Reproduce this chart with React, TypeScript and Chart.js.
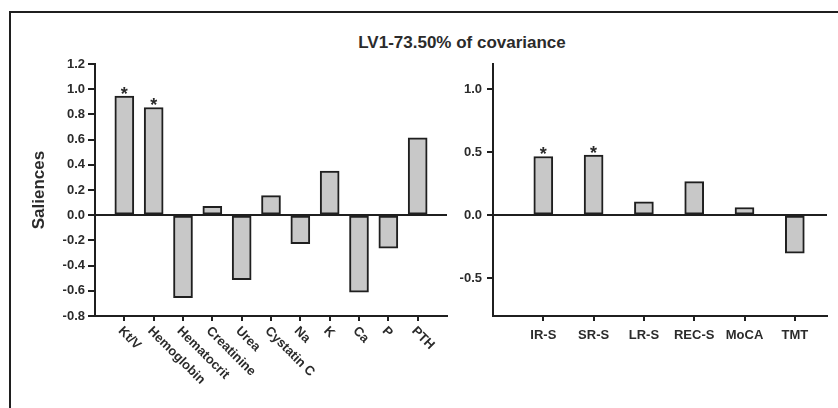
import React, { useEffect, useRef } from "react";
import { Chart, registerables } from "chart.js";

Chart.register(...registerables);

// ---------- data ----------
const titleText = "LV1-73.50% of covariance";
const yAxisTitle = "Saliences";

const leftCategories = ["Kt/V", "Hemoglobin", "Hematocrit", "Creatinine", "Urea", "Cystatin C", "Na", "K", "Ca", "P", "PTH"];
const leftValues = [0.945, 0.855, -0.655, 0.07, -0.512, 0.155, -0.225, 0.35, -0.61, -0.262, 0.615];
const leftStars = [true, true, false, false, false, false, false, false, false, false, false];
const leftYTicks = [-0.8, -0.6, -0.4, -0.2, 0.0, 0.2, 0.4, 0.6, 0.8, 1.0, 1.2];

const rightCategories = ["IR-S", "SR-S", "LR-S", "REC-S", "MoCA", "TMT"];
const rightValues = [0.466, 0.477, 0.106, 0.266, 0.061, -0.302];
const rightStars = [true, true, false, false, false, false];
const rightYTicks = [-0.5, 0.0, 0.5, 1.0];

const yMin = -0.8;
const yMax = 1.2;

// ---------- style ----------
const FONT = "'Liberation Sans', Arial, Helvetica, sans-serif";
const DARK = "#1f1f1f";
const TEXT = "#2b2b2b";
const BAR_FILL = "#c8c8c8";

const starPlugin = (stars: boolean[]) => ({
  id: "stars",
  afterDatasetsDraw(chart: any) {
    const meta = chart.getDatasetMeta(0);
    const ctx = chart.ctx;
    ctx.save();
    ctx.fillStyle = TEXT;
    ctx.font = `bold 18px ${FONT}`;
    ctx.textAlign = "center";
    ctx.textBaseline = "alphabetic";
    meta.data.forEach((bar: any, i: number) => {
      if (!stars[i]) return;
      ctx.fillText("*", bar.x, bar.y + 4);
    });
    ctx.restore();
  },
});

const rotatedLabelsPlugin = {
  id: "rotLabels",
  afterDraw(chart: any) {
    const xs = chart.scales.x;
    const ctx = chart.ctx;
    const base = chart.chartArea.bottom;
    ctx.save();
    ctx.fillStyle = TEXT;
    ctx.font = `bold 13px ${FONT}`;
    ctx.textAlign = "left";
    ctx.textBaseline = "middle";
    leftCategories.forEach((lab, i) => {
      const x = xs.getPixelForValue(i + 1);
      ctx.save();
      ctx.translate(x - 4, base + 13);
      ctx.rotate(Math.PI / 4);
      ctx.fillText(lab, 0, 0);
      ctx.restore();
    });
    ctx.restore();
  },
};

const zeroColor = (c: any) => (c.tick && Math.abs(c.tick.value) < 1e-9 ? DARK : "rgba(0,0,0,0)");

function makeLeft(canvas: HTMLCanvasElement) {
  return new Chart(canvas, {
    type: "bar",
    data: {
      datasets: [
        {
          data: leftValues.map((v, i) => ({ x: i + 1, y: v })),
          backgroundColor: BAR_FILL,
          borderColor: DARK,
          borderWidth: 2,
          borderSkipped: false,
          barThickness: 19,
        },
      ],
    },
    options: {
      responsive: false,
      animation: false,
      events: [],
      layout: { padding: { left: 0, top: 64, right: 23, bottom: 82 } },
      plugins: { legend: { display: false }, tooltip: { enabled: false }, title: { display: false } },
      scales: {
        x: {
          type: "linear",
          offset: false,
          min: 0,
          max: 12,
          afterBuildTicks: (s: any) => {
            s.ticks = leftCategories.map((_, i) => ({ value: i + 1 }));
          },
          afterFit: (s: any) => {
            s.height = 10;
          },
          ticks: { display: false },
          grid: { offset: false, drawOnChartArea: false, tickLength: 5, tickColor: DARK, lineWidth: 2 },
          border: { display: true, color: DARK, width: 2 },
        },
        y: {
          type: "linear",
          min: yMin,
          max: yMax,
          afterBuildTicks: (s: any) => {
            s.ticks = leftYTicks.map((v) => ({ value: v }));
          },
          afterFit: (s: any) => {
            s.width = 95;
          },
          ticks: {
            padding: 3,
            color: TEXT,
            font: { family: FONT, size: 13, weight: "bold" },
            callback: (v: any) => Number(v).toFixed(1),
          },
          grid: { drawOnChartArea: true, color: zeroColor, tickColor: DARK, tickLength: 7, lineWidth: 2 },
          border: { display: true, color: DARK, width: 2 },
          title: {
            display: true,
            text: yAxisTitle,
            color: TEXT,
            font: { family: FONT, size: 17, weight: "bold" },
            padding: { top: 29, bottom: 0 },
          },
        },
      },
    },
    plugins: [starPlugin(leftStars), rotatedLabelsPlugin],
  } as any);
}

function makeRight(canvas: HTMLCanvasElement) {
  return new Chart(canvas, {
    type: "bar",
    data: {
      datasets: [
        {
          data: rightValues.map((v, i) => ({ x: i + 1, y: v })),
          backgroundColor: BAR_FILL,
          borderColor: DARK,
          borderWidth: 2,
          borderSkipped: false,
          barThickness: 19,
        },
      ],
    },
    options: {
      responsive: false,
      animation: false,
      events: [],
      layout: { padding: { left: 0, top: 64, right: 11, bottom: 52 } },
      plugins: { legend: { display: false }, tooltip: { enabled: false }, title: { display: false } },
      scales: {
        x: {
          type: "linear",
          offset: false,
          min: 0,
          max: 6.64,
          afterBuildTicks: (s: any) => {
            s.ticks = rightCategories.map((_, i) => ({ value: i + 1 }));
          },
          afterFit: (s: any) => {
            s.height = 40;
          },
          ticks: {
            padding: 7,
            color: TEXT,
            maxRotation: 0,
            autoSkip: false,
            font: { family: FONT, size: 13, weight: "bold" },
            callback: (v: any) => rightCategories[Math.round(Number(v)) - 1] ?? "",
          },
          grid: { offset: false, drawOnChartArea: false, tickLength: 5, tickColor: DARK, lineWidth: 2 },
          border: { display: true, color: DARK, width: 2 },
        },
        y: {
          type: "linear",
          min: yMin,
          max: yMax,
          afterBuildTicks: (s: any) => {
            s.ticks = rightYTicks.map((v) => ({ value: v }));
          },
          afterFit: (s: any) => {
            s.width = 53;
          },
          ticks: {
            padding: 5,
            color: TEXT,
            font: { family: FONT, size: 13, weight: "bold" },
            callback: (v: any) => Number(v).toFixed(1),
          },
          grid: { drawOnChartArea: true, color: zeroColor, tickColor: DARK, tickLength: 6, lineWidth: 2 },
          border: { display: true, color: DARK, width: 2 },
        },
      },
    },
    plugins: [starPlugin(rightStars)],
  } as any);
}

export default function App() {
  const leftRef = useRef<HTMLCanvasElement>(null);
  const rightRef = useRef<HTMLCanvasElement>(null);

  useEffect(() => {
    const a = makeLeft(leftRef.current!);
    const b = makeRight(rightRef.current!);
    return () => {
      a.destroy();
      b.destroy();
    };
  }, []);

  return (
    <div style={{ position: "absolute", left: 0, top: 0, width: 838, height: 408, background: "#fff", overflow: "hidden" }}>
      <div
        style={{
          position: "absolute",
          left: 9,
          top: 11,
          width: 840,
          height: 410,
          borderTop: `2px solid ${DARK}`,
          borderLeft: `2px solid ${DARK}`,
          boxSizing: "border-box",
        }}
      />
      <div
        style={{
          position: "absolute",
          left: 262,
          top: 33,
          width: 400,
          textAlign: "center",
          font: `bold 17px ${FONT}`,
          lineHeight: "20px",
          color: TEXT,
        }}
      >
        {titleText}
      </div>
      <canvas ref={leftRef} width={470} height={408} style={{ position: "absolute", left: 0, top: 0, width: 470, height: 408 }} />
      <canvas ref={rightRef} width={398} height={408} style={{ position: "absolute", left: 440, top: 0, width: 398, height: 408 }} />
    </div>
  );
}
